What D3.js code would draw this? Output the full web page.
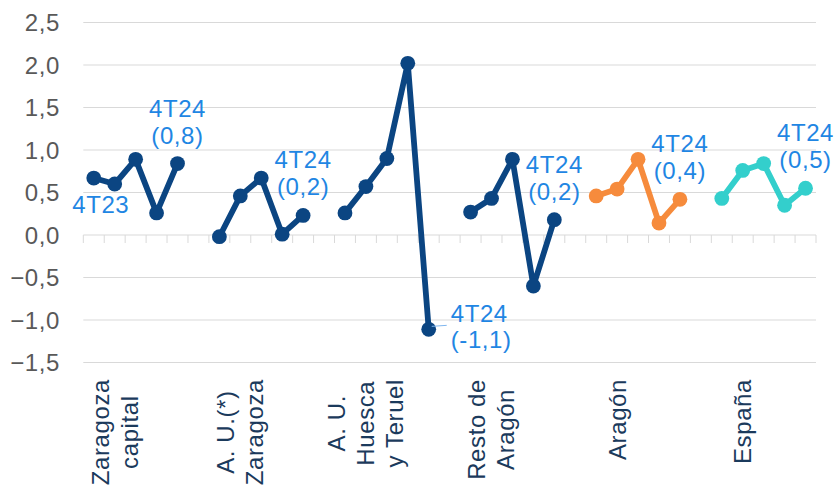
<!DOCTYPE html>
<html><head><meta charset="utf-8">
<script src="https://cdn.jsdelivr.net/npm/d3@7"></script>
<style>
html,body{margin:0;padding:0;background:#fff;}
svg{display:block;font-family:"Liberation Sans",Arial,sans-serif;}
</style></head>
<body><svg id="c" width="836" height="491"></svg>
<script>
const groups = ["Zaragoza capital","A. U.(*) Zaragoza","A. U. Huesca y Teruel","Resto de Aragón","Aragón","España"];
const groupLabelLines = [["Zaragoza","capital"],["A. U.(*)","Zaragoza"],["A. U.","Huesca","y Teruel"],["Resto de","Aragón"],["Aragón"],["España"]];
const quarters = ["4T23","1T24","2T24","3T24","4T24"];
const zaragozaCapital = [0.67,0.60,0.89,0.26,0.84];
const auZaragoza = [-0.02,0.46,0.67,0.01,0.23];
const auHuescaTeruel = [0.26,0.57,0.90,2.02,-1.11];
const restoAragon = [0.27,0.43,0.89,-0.60,0.18];
const aragon = [0.46,0.54,0.89,0.14,0.42];
const espana = [0.43,0.76,0.84,0.35,0.55];
const seriesValues = [zaragozaCapital,auZaragoza,auHuescaTeruel,restoAragon,aragon,espana];
const lastLabels = ["(0,8)","(0,2)","(-1,1)","(0,2)","(0,4)","(0,5)"];
const yTicks = [-1.5,-1.0,-0.5,0.0,0.5,1.0,1.5,2.0,2.5];
const colors = ["#0b4582","#0b4582","#0b4582","#0b4582","#f68b3c","#33cfcc"];

(function(){
const svg = d3.select("#c");
const FS = 24, LS = "0.6px";
const pLeft = 83.3, pRight = 816, pTop = 22.5, pBottom = 362.5;
const nSlots = groups.length*(quarters.length+1)-1;
const x = d3.scaleBand().domain(d3.range(nSlots)).range([pLeft,pRight]).padding(0);
const y = d3.scaleLinear().domain([-1.5,2.5]).range([pBottom,pTop]);
const loc = d3.formatLocale({decimal:",",thousands:".",grouping:[3],currency:["","€"]});
const fmt = loc.format(".1f");
const slot = (g,q)=> g*(quarters.length+1)+q;
const cx = s => x(s)+x.bandwidth()/2;

svg.append("g").selectAll("line").data(yTicks.filter(v=>v!==0)).join("line")
  .attr("x1",pLeft).attr("x2",pRight).attr("y1",d=>y(d)).attr("y2",d=>y(d))
  .attr("stroke","#d9d9d9").attr("stroke-width",1);

svg.append("g").selectAll("text").data(yTicks).join("text")
  .attr("x",60).attr("y",d=>y(d)).attr("dy","0.36em").attr("text-anchor","end")
  .attr("font-size",FS).attr("letter-spacing",LS).attr("fill","#595959").text(d=>fmt(d));

const ax = svg.append("g").attr("transform",`translate(0,${y(0)})`);
ax.append("line").attr("x1",pLeft).attr("x2",pRight).attr("stroke","#d9d9d9");
ax.selectAll("line.t").data(d3.range(nSlots+1)).join("line").attr("class","t")
  .attr("x1",d=>pLeft+d*x.bandwidth()).attr("x2",d=>pLeft+d*x.bandwidth())
  .attr("y1",0).attr("y2",8).attr("stroke","#d9d9d9");

const line = d3.line().x(d=>cx(d.s)).y(d=>y(d.v));
seriesValues.forEach((vals,g)=>{
  const pts = vals.map((v,q)=>({s:slot(g,q),v}));
  svg.append("path").datum(pts).attr("d",line).attr("fill","none")
    .attr("stroke",colors[g]).attr("stroke-width",5.8).attr("stroke-linejoin","round");
  svg.append("g").selectAll("circle").data(pts).join("circle")
    .attr("cx",d=>cx(d.s)).attr("cy",d=>y(d.v)).attr("r",7.4).attr("fill",colors[g]);
});

const annColor = "#1f86e3";
seriesValues.forEach((vals,g)=>{
  const s = slot(g,quarters.length-1), v = vals[vals.length-1];
  const px = cx(s), py = y(v);
  const t = svg.append("text").attr("font-size",FS).attr("letter-spacing",LS).attr("fill",annColor);
  if (g===2){
    svg.append("line").attr("x1",px+3).attr("x2",px+18).attr("y1",py-3).attr("y2",py-4)
      .attr("stroke","#7fb6ee").attr("stroke-width",1);
    t.attr("text-anchor","start");
    t.append("tspan").attr("x",px+22).attr("y",py-7).text(quarters[4]);
    t.append("tspan").attr("x",px+22).attr("y",py+19).text(lastLabels[g]);
  } else {
    t.attr("text-anchor","middle");
    t.append("tspan").attr("x",px).attr("y",py-47).text(quarters[4]);
    t.append("tspan").attr("x",px).attr("y",py-20).text(lastLabels[g]);
  }
});
svg.append("text").attr("font-size",FS).attr("letter-spacing",LS).attr("fill",annColor).attr("text-anchor","middle")
  .attr("x",cx(slot(0,0))+7).attr("y",y(zaragozaCapital[0])+35).text(quarters[0]);

groupLabelLines.forEach((lines,g)=>{
  const xc = cx(slot(g,1));
  const gg = svg.append("g");
  const texts = lines.map(l=>gg.append("text").attr("font-size",FS).attr("letter-spacing",LS).attr("fill","#1b3a5c")
     .attr("text-anchor","middle").text(l));
  const maxLen = d3.max(texts,t=>t.node().getComputedTextLength());
  const yc = 379 + maxLen/2;
  const sp = 29;
  gg.attr("transform",`translate(${xc},${yc}) rotate(-90)`);
  texts.forEach((t,i)=>t.attr("x",0).attr("y",(i-(lines.length-1)/2)*sp).attr("dy","0.35em"));
});
})();
</script></body></html>
